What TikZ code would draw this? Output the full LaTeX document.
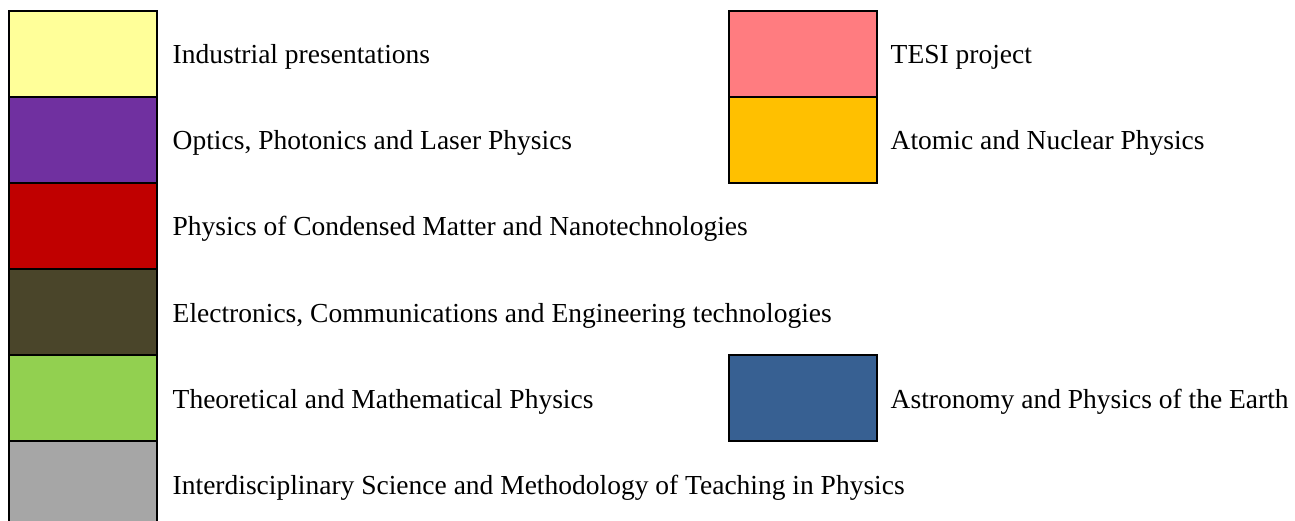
\documentclass[tikz,border=0pt]{standalone}
\usepackage{fontspec}
\setmainfont{Liberation Serif}
\usetikzlibrary{positioning}

\definecolor{cind}{HTML}{FFFF99}
\definecolor{copt}{HTML}{7030A0}
\definecolor{ccond}{HTML}{C00000}
\definecolor{celec}{HTML}{4A452A}
\definecolor{ctheo}{HTML}{92D050}
\definecolor{cinter}{HTML}{A6A6A6}
\definecolor{ctesi}{HTML}{FF7C80}
\definecolor{catom}{HTML}{FFC000}
\definecolor{castro}{HTML}{376092}

\tikzset{
	swatch/.style = {draw = black, line width = 2pt, minimum width = 148pt,
		minimum height = 86pt, inner sep = 0pt, outer sep = 0pt},
	lbl/.style = {anchor = base west, yshift = -10pt, inner sep = 0pt,
		font = \fontsize{27.5}{32}\selectfont}
}

\begin{document}
\begin{tikzpicture}[x = 1pt, y = 1pt]
	\useasboundingbox (0, 0) rectangle (1295, -521);

	% left column
	\node[swatch, fill = cind] (ind) at (82.5, -54) {};
	\node[swatch, fill = copt, below = 0pt of ind] (opt) {};
	\node[swatch, fill = ccond, below = 0pt of opt] (cond) {};
	\node[swatch, fill = celec, below = 0pt of cond] (elec) {};
	\node[swatch, fill = ctheo, below = 0pt of elec] (theo) {};
	\node[swatch, fill = cinter, below = 0pt of theo] (inter) {};

	\node[right = 16pt of ind, lbl] (indl) {Industrial presentations};
	\node[right = 16pt of opt, lbl] (optl) {Optics, Photonics and Laser Physics};
	\node[right = 16pt of cond, lbl] (condl) {Physics of Condensed Matter and Nanotechnologies};
	\node[right = 16pt of elec, lbl] (elecl) {Electronics, Communications and Engineering technologies};
	\node[right = 16pt of theo, lbl] (theol) {Theoretical and Mathematical Physics};
	\node[right = 16pt of inter, lbl] (interl) {Interdisciplinary Science and Methodology of Teaching in Physics};

	% right column
	\node[swatch, fill = ctesi] (tesi) at (802.5, -54) {};
	\node[swatch, fill = catom, below = 0pt of tesi] (atom) {};
	\node[swatch, fill = castro] (astro) at (802.5, -398) {};

	\node[right = 14pt of tesi, lbl] (tesil) {TESI project};
	\node[right = 14pt of atom, lbl] (atoml) {Atomic and Nuclear Physics};
	\node[right = 14pt of astro, lbl] (astrol) {Astronomy and Physics of the Earth};
\end{tikzpicture}
\end{document}
